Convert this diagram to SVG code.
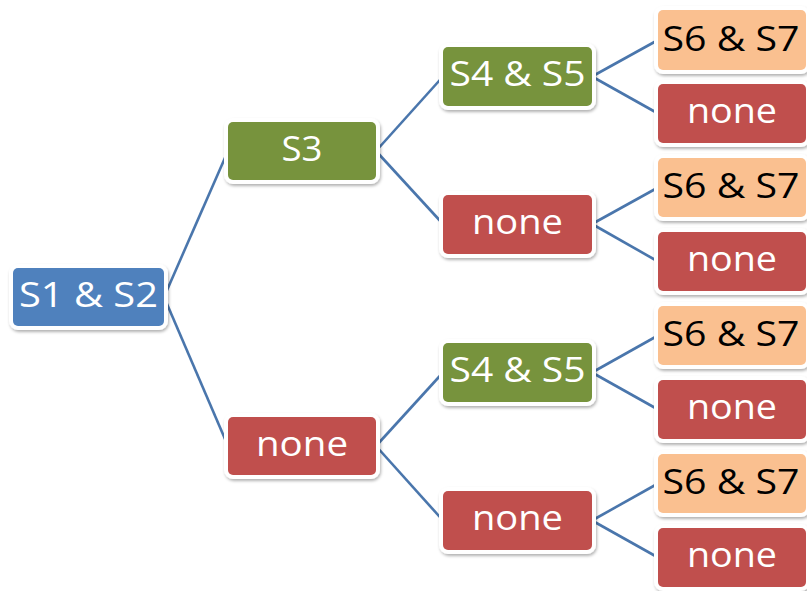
<svg xmlns="http://www.w3.org/2000/svg" width="807" height="591" viewBox="0 0 807 591">
<style>
  .box { stroke: #ffffff; stroke-width: 8; paint-order: stroke; filter: url(#sh); }
  .blue { fill: #4F81BD; }
  .green { fill: #77933C; }
  .red { fill: #C0504D; }
  .peach { fill: #FAC090; }
  text { font-family: "Open Sans", "Liberation Sans", sans-serif; font-size: 35px; text-anchor: middle; fill: #ffffff; }
  text.dark { fill: #000000; }
  #connectors line { stroke: #4A76AC; stroke-width: 2.6; }
</style>
<defs>
  <filter id="sh" x="-10%" y="-20%" width="120%" height="150%">
    <feDropShadow dx="1" dy="2" stdDeviation="1.8" flood-color="#000000" flood-opacity="0.3"/>
  </filter>
</defs>
<rect width="807" height="591" fill="#ffffff"/>
<g id="connectors">
  <line x1="164" y1="297" x2="228" y2="151"/>
  <line x1="164" y1="297" x2="228" y2="446"/>
  <line x1="376" y1="151" x2="443" y2="76.5"/>
  <line x1="376" y1="151" x2="443" y2="224"/>
  <line x1="376" y1="446" x2="443" y2="372.5"/>
  <line x1="376" y1="446" x2="443" y2="520.5"/>
  <line x1="592" y1="76.5" x2="658" y2="40"/>
  <line x1="592" y1="76.5" x2="658" y2="113.5"/>
  <line x1="592" y1="224" x2="658" y2="187.5"/>
  <line x1="592" y1="224" x2="658" y2="261.5"/>
  <line x1="592" y1="372.5" x2="658" y2="335.5"/>
  <line x1="592" y1="372.5" x2="658" y2="409.5"/>
  <line x1="592" y1="520.5" x2="658" y2="483.5"/>
  <line x1="592" y1="520.5" x2="658" y2="557.5"/>
</g>
<g id="n-root">
  <rect class="box blue" x="13" y="268" width="151" height="58" rx="5"/>
  <text x="88.5" y="307" textLength="139" lengthAdjust="spacingAndGlyphs">S1 &amp; S2</text>
</g>
<g id="n-s3">
  <rect class="box green" x="228" y="122" width="148" height="58" rx="5"/>
  <text x="302" y="161" textLength="41" lengthAdjust="spacingAndGlyphs">S3</text>
</g>
<g id="n-none-l2">
  <rect class="box red" x="228" y="417" width="148" height="58" rx="5"/>
  <text x="302" y="456" textLength="92" lengthAdjust="spacingAndGlyphs">none</text>
</g>
<g id="n-s45-a">
  <rect class="box green" x="443" y="47" width="149" height="59" rx="5"/>
  <text x="517.5" y="86" textLength="136" lengthAdjust="spacingAndGlyphs">S4 &amp; S5</text>
</g>
<g id="n-none-l3a">
  <rect class="box red" x="443" y="195" width="149" height="59" rx="5"/>
  <text x="517.5" y="234" textLength="91" lengthAdjust="spacingAndGlyphs">none</text>
</g>
<g id="n-s45-b">
  <rect class="box green" x="443" y="343" width="149" height="59" rx="5"/>
  <text x="517.5" y="382" textLength="136" lengthAdjust="spacingAndGlyphs">S4 &amp; S5</text>
</g>
<g id="n-none-l3b">
  <rect class="box red" x="443" y="491" width="149" height="59" rx="5"/>
  <text x="517.5" y="530" textLength="91" lengthAdjust="spacingAndGlyphs">none</text>
</g>
<g id="n-leaf1">
  <rect class="box peach" x="658" y="10" width="148" height="60" rx="5"/>
  <text class="dark" x="731" y="51" textLength="137" lengthAdjust="spacingAndGlyphs">S6 &amp; S7</text>
</g>
<g id="n-leaf2">
  <rect class="box red" x="658" y="84" width="148" height="59" rx="5"/>
  <text x="732" y="123" textLength="90" lengthAdjust="spacingAndGlyphs">none</text>
</g>
<g id="n-leaf3">
  <rect class="box peach" x="658" y="158" width="148" height="59" rx="5"/>
  <text class="dark" x="731" y="198" textLength="137" lengthAdjust="spacingAndGlyphs">S6 &amp; S7</text>
</g>
<g id="n-leaf4">
  <rect class="box red" x="658" y="232" width="148" height="59" rx="5"/>
  <text x="732" y="271" textLength="90" lengthAdjust="spacingAndGlyphs">none</text>
</g>
<g id="n-leaf5">
  <rect class="box peach" x="658" y="306" width="148" height="59" rx="5"/>
  <text class="dark" x="731" y="346" textLength="137" lengthAdjust="spacingAndGlyphs">S6 &amp; S7</text>
</g>
<g id="n-leaf6">
  <rect class="box red" x="658" y="380" width="148" height="59" rx="5"/>
  <text x="732" y="419" textLength="90" lengthAdjust="spacingAndGlyphs">none</text>
</g>
<g id="n-leaf7">
  <rect class="box peach" x="658" y="454" width="148" height="59" rx="5"/>
  <text class="dark" x="731" y="494" textLength="137" lengthAdjust="spacingAndGlyphs">S6 &amp; S7</text>
</g>
<g id="n-leaf8">
  <rect class="box red" x="658" y="528" width="148" height="59" rx="5"/>
  <text x="732" y="567" textLength="90" lengthAdjust="spacingAndGlyphs">none</text>
</g>
</svg>
